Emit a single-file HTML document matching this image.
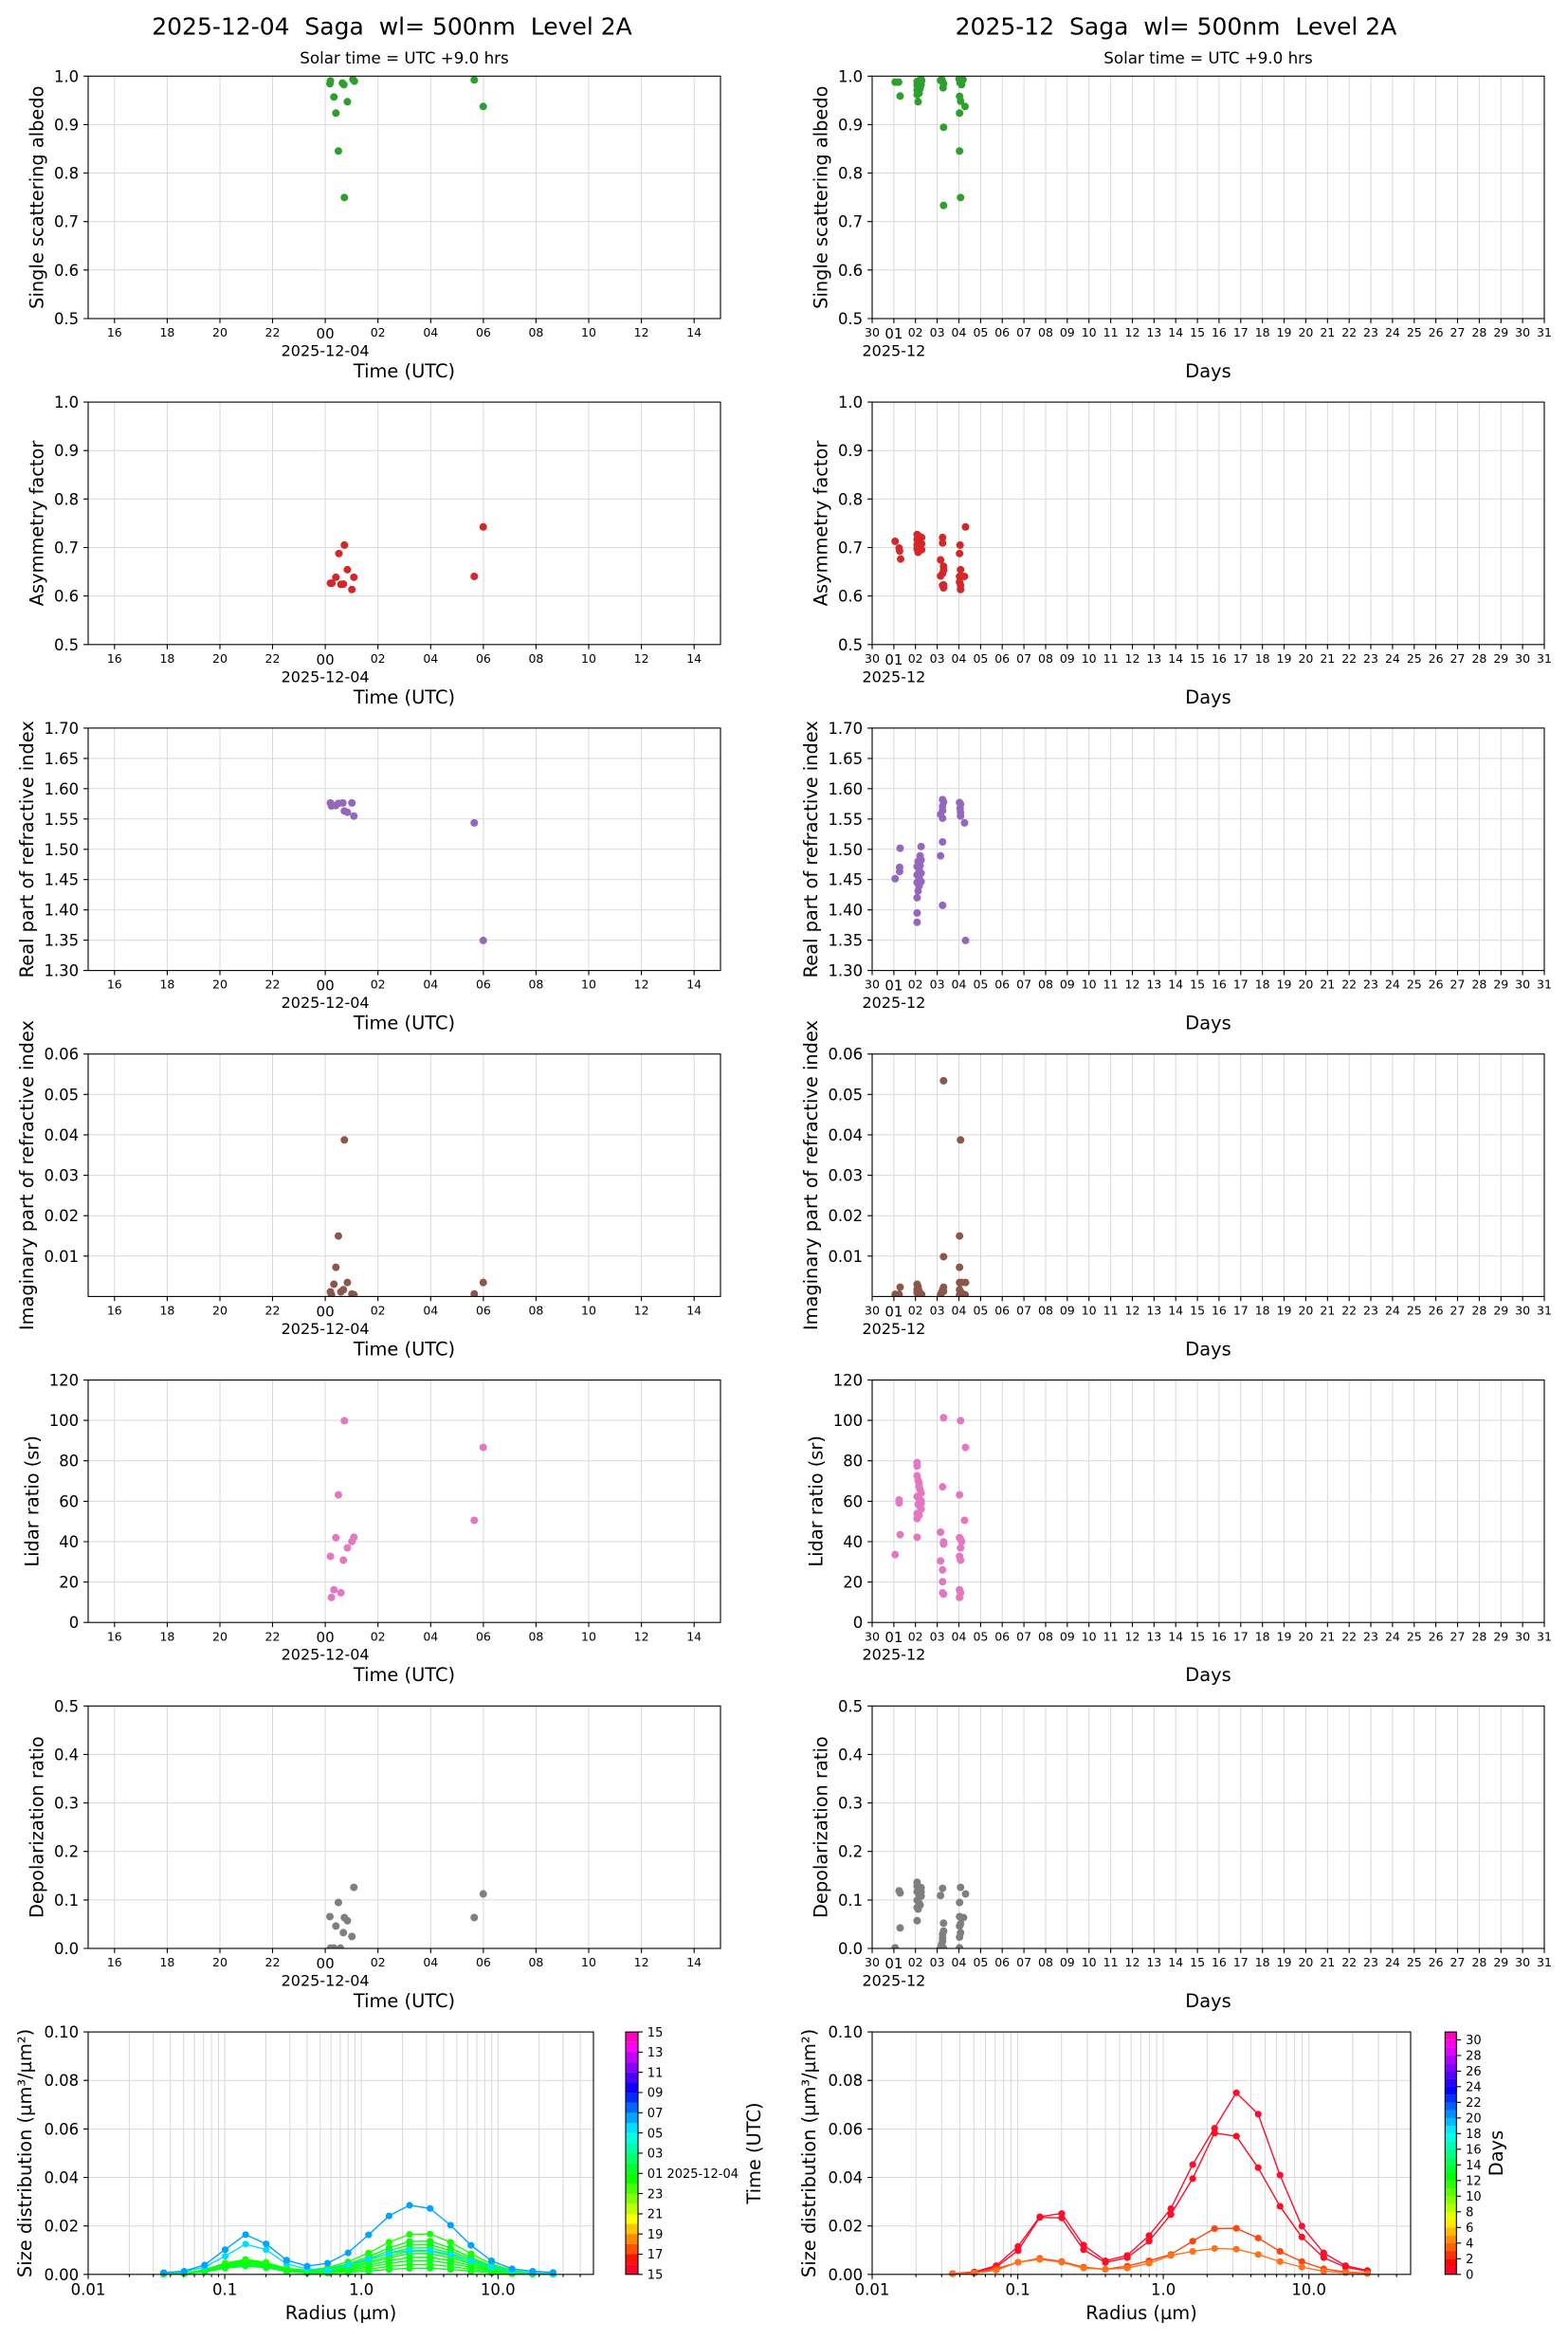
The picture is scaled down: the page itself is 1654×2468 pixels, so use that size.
<!DOCTYPE html>
<html><head><meta charset="utf-8"><style>
body{margin:0;background:#fff}
svg{display:block}
text{font-family:"DejaVu Sans","Liberation Sans",sans-serif;fill:#000}
.yt{font-size:16.5px;text-anchor:end}
.xt{font-size:12.5px;text-anchor:middle}
.xm{font-size:15px;text-anchor:middle}
.xd{font-size:16px;text-anchor:middle}
.al{font-size:19.4px;text-anchor:middle}
.ct{font-size:13px}
.lt{font-size:16.5px;text-anchor:middle}
.ttl{font-size:25px;text-anchor:middle;white-space:pre}
.sub{font-size:16.7px;text-anchor:middle}
.grid{stroke:#d9d9d9;stroke-width:1;fill:none}
.tk{stroke:#000;stroke-width:1.1;fill:none}
.sp{stroke:#000;stroke-width:1.1;fill:none}
.dot{fill:none;stroke-linecap:round;stroke-width:8;vector-effect:non-scaling-stroke}
.sd{fill:none;stroke-linecap:round;stroke-width:7;vector-effect:non-scaling-stroke}
.ln{fill:none;stroke-width:1.4;stroke-linejoin:round;vector-effect:non-scaling-stroke}
</style></head><body>
<svg width="1654" height="2468" viewBox="0 0 1654 2468" xmlns="http://www.w3.org/2000/svg">
<defs>
<clipPath id="cL1"><rect x="93" y="80.3" width="667" height="255.7"/></clipPath>
<clipPath id="cL2"><rect x="93" y="424.1" width="667" height="255.7"/></clipPath>
<clipPath id="cL3"><rect x="93" y="767.9" width="667" height="255.7"/></clipPath>
<clipPath id="cL4"><rect x="93" y="1111.7" width="667" height="255.7"/></clipPath>
<clipPath id="cL5"><rect x="93" y="1455.5" width="667" height="255.7"/></clipPath>
<clipPath id="cL6"><rect x="93" y="1799.3" width="667" height="255.7"/></clipPath>
<clipPath id="cR1"><rect x="920" y="80.3" width="709" height="255.7"/></clipPath>
<clipPath id="cR2"><rect x="920" y="424.1" width="709" height="255.7"/></clipPath>
<clipPath id="cR3"><rect x="920" y="767.9" width="709" height="255.7"/></clipPath>
<clipPath id="cR4"><rect x="920" y="1111.7" width="709" height="255.7"/></clipPath>
<clipPath id="cR5"><rect x="920" y="1455.5" width="709" height="255.7"/></clipPath>
<clipPath id="cR6"><rect x="920" y="1799.3" width="709" height="255.7"/></clipPath>
<path id="gvL" d="M120.8 0V255.7M176.4 0V255.7M232 0V255.7M287.5 0V255.7M343.1 0V255.7M398.7 0V255.7M454.3 0V255.7M509.9 0V255.7M565.4 0V255.7M621 0V255.7M676.6 0V255.7M732.2 0V255.7"/>
<path id="xtL" d="M120.8 255.7v4.9M176.4 255.7v4.9M232 255.7v4.9M287.5 255.7v4.9M343.1 255.7v4.9M398.7 255.7v4.9M454.3 255.7v4.9M509.9 255.7v4.9M565.4 255.7v4.9M621 255.7v4.9M676.6 255.7v4.9M732.2 255.7v4.9"/>
<path id="gvR" d="M942.9 0V255.7M965.7 0V255.7M988.6 0V255.7M1011.5 0V255.7M1034.4 0V255.7M1057.2 0V255.7M1080.1 0V255.7M1103 0V255.7M1125.8 0V255.7M1148.7 0V255.7M1171.6 0V255.7M1194.5 0V255.7M1217.3 0V255.7M1240.2 0V255.7M1263.1 0V255.7M1285.9 0V255.7M1308.8 0V255.7M1331.7 0V255.7M1354.5 0V255.7M1377.4 0V255.7M1400.3 0V255.7M1423.2 0V255.7M1446 0V255.7M1468.9 0V255.7M1491.8 0V255.7M1514.6 0V255.7M1537.5 0V255.7M1560.4 0V255.7M1583.3 0V255.7M1606.1 0V255.7"/>
<path id="xtR" d="M920 255.7v4.9M942.9 255.7v4.9M965.7 255.7v4.9M988.6 255.7v4.9M1011.5 255.7v4.9M1034.4 255.7v4.9M1057.2 255.7v4.9M1080.1 255.7v4.9M1103 255.7v4.9M1125.8 255.7v4.9M1148.7 255.7v4.9M1171.6 255.7v4.9M1194.5 255.7v4.9M1217.3 255.7v4.9M1240.2 255.7v4.9M1263.1 255.7v4.9M1285.9 255.7v4.9M1308.8 255.7v4.9M1331.7 255.7v4.9M1354.5 255.7v4.9M1377.4 255.7v4.9M1400.3 255.7v4.9M1423.2 255.7v4.9M1446 255.7v4.9M1468.9 255.7v4.9M1491.8 255.7v4.9M1514.6 255.7v4.9M1537.5 255.7v4.9M1560.4 255.7v4.9M1583.3 255.7v4.9M1606.1 255.7v4.9M1629 255.7v4.9"/>
</defs>

<!-- Titles -->
<text class="ttl" x="413.5" y="36.7">2025-12-04  Saga  wl= 500nm  Level 2A</text>
<text class="ttl" x="1240.5" y="36.7">2025-12  Saga  wl= 500nm  Level 2A</text>
<text class="sub" x="426.5" y="67.2">Solar time = UTC +9.0 hrs</text>
<text class="sub" x="1274.5" y="67.2">Solar time = UTC +9.0 hrs</text>

<!-- ============ PANEL 1 LEFT (SSA) ============ -->
<use href="#gvL" y="80.3" class="grid"/>
<path class="grid" d="M93 131.4H760M93 182.5H760M93 233.7H760M93 284.8H760"/>
<g clip-path="url(#cL1)"><path class="dot" stroke="#2ca02c" transform="matrix(0.52686 0 0 0.33338 0.273 -0.045)" d="M661 256h.01M660 265h.01M685 263h.01M688 268h.01M706 251h.01M709 257h.01M668 307h.01M695 322h.01M672 358h.01M677 478h.01M689 625h.01M949 253h.01M967 337h.01"/></g>
<rect class="sp" x="93" y="80.3" width="667" height="255.7"/>
<use href="#xtL" y="80.3" class="tk"/>
<path class="tk" d="M93 80.3h-4.9M93 131.4h-4.9M93 182.5h-4.9M93 233.7h-4.9M93 284.8h-4.9M93 336h-4.9"/>
<text class="yt"><tspan x="83.2" y="86.3">1.0</tspan><tspan x="83.2" y="137.4">0.9</tspan><tspan x="83.2" y="188.5">0.8</tspan><tspan x="83.2" y="239.7">0.7</tspan><tspan x="83.2" y="290.8">0.6</tspan><tspan x="83.2" y="342">0.5</tspan></text>
<text class="xt" y="355.1"><tspan x="120.8">16</tspan><tspan x="176.4">18</tspan><tspan x="232">20</tspan><tspan x="287.5">22</tspan><tspan x="398.7">02</tspan><tspan x="454.3">04</tspan><tspan x="509.9">06</tspan><tspan x="565.4">08</tspan><tspan x="621">10</tspan><tspan x="676.6">12</tspan><tspan x="732.2">14</tspan></text>
<text class="xm" x="343.1" y="357">00</text>
<text class="xd" x="343.1" y="375.5">2025-12-04</text>
<text class="al" x="426.5" y="398">Time (UTC)</text>
<text class="al" transform="translate(45.5 208.15) rotate(-90)">Single scattering albedo</text>

<!-- ============ PANEL 1 RIGHT ============ -->
<use href="#gvR" y="80.3" class="grid"/>
<path class="grid" d="M920 131.4H1629M920 182.5H1629M920 233.7H1629M920 284.8H1629"/>
<g clip-path="url(#cR1)"><path class="dot" stroke="#2ca02c" transform="matrix(0.52675 0 0 0.33338 827.292 -0.045)" d="M222 260h.01M229 260h.01M232 304h.01M266 258h.01M270 255h.01M274 250h.01M266 270h.01M270 275h.01M274 268h.01M268 290h.01M266 300h.01M270 295h.01M268 322h.01M273 262h.01M275 255h.01M266 285h.01M272 280h.01M315 250h.01M317 258h.01M319 265h.01M318 278h.01M313 255h.01M319 403h.01M319 650h.01M350 250h.01M352 262h.01M355 268h.01M358 252h.01M362 337h.01M351 305h.01M353 320h.01M351 358h.01M351 478h.01M353 625h.01"/></g>
<rect class="sp" x="920" y="80.3" width="709" height="255.7"/>
<use href="#xtR" y="80.3" class="tk"/>
<path class="tk" d="M920 80.3h-4.9M920 131.4h-4.9M920 182.5h-4.9M920 233.7h-4.9M920 284.8h-4.9M920 336h-4.9"/>
<text class="yt"><tspan x="910.2" y="86.3">1.0</tspan><tspan x="910.2" y="137.4">0.9</tspan><tspan x="910.2" y="188.5">0.8</tspan><tspan x="910.2" y="239.7">0.7</tspan><tspan x="910.2" y="290.8">0.6</tspan><tspan x="910.2" y="342">0.5</tspan></text>
<text class="xt" y="355.1"><tspan x="920">30</tspan><tspan x="965.7">02</tspan><tspan x="988.6">03</tspan><tspan x="1011.5">04</tspan><tspan x="1034.4">05</tspan><tspan x="1057.2">06</tspan><tspan x="1080.1">07</tspan><tspan x="1103">08</tspan><tspan x="1125.8">09</tspan><tspan x="1148.7">10</tspan><tspan x="1171.6">11</tspan><tspan x="1194.5">12</tspan><tspan x="1217.3">13</tspan><tspan x="1240.2">14</tspan><tspan x="1263.1">15</tspan><tspan x="1285.9">16</tspan><tspan x="1308.8">17</tspan><tspan x="1331.7">18</tspan><tspan x="1354.5">19</tspan><tspan x="1377.4">20</tspan><tspan x="1400.3">21</tspan><tspan x="1423.2">22</tspan><tspan x="1446">23</tspan><tspan x="1468.9">24</tspan><tspan x="1491.8">25</tspan><tspan x="1514.6">26</tspan><tspan x="1537.5">27</tspan><tspan x="1560.4">28</tspan><tspan x="1583.3">29</tspan><tspan x="1606.1">30</tspan><tspan x="1629">31</tspan></text>
<text class="xm" x="942.9" y="357">01</text>
<text class="xd" x="942.9" y="375.5">2025-12</text>
<text class="al" x="1274.5" y="398">Days</text>
<text class="al" transform="translate(872.5 208.15) rotate(-90)">Single scattering albedo</text>

<!-- ============ PANEL 2 LEFT (Asymmetry) ============ -->
<use href="#gvL" y="424.1" class="grid"/>
<path class="grid" d="M93 475.2H760M93 526.3H760M93 577.5H760M93 628.6H760"/>
<g clip-path="url(#cL2)"><path class="dot" stroke="#d62728" transform="matrix(0.52686 0 0 0.44625 0.273 399.556)" d="M661 483h.01M664 483h.01M672 469h.01M678 413h.01M689 393h.01M682 486h.01M687 485h.01M695 451h.01M704 498h.01M708 469h.01M949 467h.01M967 350h.01"/></g>
<rect class="sp" x="93" y="424.1" width="667" height="255.7"/>
<use href="#xtL" y="424.1" class="tk"/>
<path class="tk" d="M93 424.1h-4.9M93 475.2h-4.9M93 526.3h-4.9M93 577.5h-4.9M93 628.6h-4.9M93 679.8h-4.9"/>
<text class="yt"><tspan x="83.2" y="430.1">1.0</tspan><tspan x="83.2" y="481.2">0.9</tspan><tspan x="83.2" y="532.3">0.8</tspan><tspan x="83.2" y="583.5">0.7</tspan><tspan x="83.2" y="634.6">0.6</tspan><tspan x="83.2" y="685.8">0.5</tspan></text>
<text class="xt" y="698.9"><tspan x="120.8">16</tspan><tspan x="176.4">18</tspan><tspan x="232">20</tspan><tspan x="287.5">22</tspan><tspan x="398.7">02</tspan><tspan x="454.3">04</tspan><tspan x="509.9">06</tspan><tspan x="565.4">08</tspan><tspan x="621">10</tspan><tspan x="676.6">12</tspan><tspan x="732.2">14</tspan></text>
<text class="xm" x="343.1" y="700.8">00</text>
<text class="xd" x="343.1" y="719.3">2025-12-04</text>
<text class="al" x="426.5" y="741.8">Time (UTC)</text>
<text class="al" transform="translate(45.5 551.95) rotate(-90)">Asymmetry factor</text>

<!-- ============ PANEL 2 RIGHT ============ -->
<use href="#gvR" y="424.1" class="grid"/>
<path class="grid" d="M920 475.2H1629M920 526.3H1629M920 577.5H1629M920 628.6H1629"/>
<g clip-path="url(#cR2)"><path class="dot" stroke="#d62728" transform="matrix(0.52675 0 0 0.44625 827.292 399.556)" d="M222 384h.01M230 400h.01M231 407h.01M233 426h.01M266 368h.01M266 380h.01M266 392h.01M266 402h.01M270 372h.01M270 385h.01M270 398h.01M275 375h.01M275 390h.01M275 404h.01M268 410h.01M317 375h.01M317 388h.01M313 428h.01M319 443h.01M319 452h.01M313 466h.01M317 460h.01M319 487h.01M319 494h.01M317 488h.01M352 393h.01M351 413h.01M353 451h.01M351 467h.01M355 467h.01M361 467h.01M351 480h.01M353 488h.01M353 498h.01M363 350h.01"/></g>
<rect class="sp" x="920" y="424.1" width="709" height="255.7"/>
<use href="#xtR" y="424.1" class="tk"/>
<path class="tk" d="M920 424.1h-4.9M920 475.2h-4.9M920 526.3h-4.9M920 577.5h-4.9M920 628.6h-4.9M920 679.8h-4.9"/>
<text class="yt"><tspan x="910.2" y="430.1">1.0</tspan><tspan x="910.2" y="481.2">0.9</tspan><tspan x="910.2" y="532.3">0.8</tspan><tspan x="910.2" y="583.5">0.7</tspan><tspan x="910.2" y="634.6">0.6</tspan><tspan x="910.2" y="685.8">0.5</tspan></text>
<text class="xt" y="698.9"><tspan x="920">30</tspan><tspan x="965.7">02</tspan><tspan x="988.6">03</tspan><tspan x="1011.5">04</tspan><tspan x="1034.4">05</tspan><tspan x="1057.2">06</tspan><tspan x="1080.1">07</tspan><tspan x="1103">08</tspan><tspan x="1125.8">09</tspan><tspan x="1148.7">10</tspan><tspan x="1171.6">11</tspan><tspan x="1194.5">12</tspan><tspan x="1217.3">13</tspan><tspan x="1240.2">14</tspan><tspan x="1263.1">15</tspan><tspan x="1285.9">16</tspan><tspan x="1308.8">17</tspan><tspan x="1331.7">18</tspan><tspan x="1354.5">19</tspan><tspan x="1377.4">20</tspan><tspan x="1400.3">21</tspan><tspan x="1423.2">22</tspan><tspan x="1446">23</tspan><tspan x="1468.9">24</tspan><tspan x="1491.8">25</tspan><tspan x="1514.6">26</tspan><tspan x="1537.5">27</tspan><tspan x="1560.4">28</tspan><tspan x="1583.3">29</tspan><tspan x="1606.1">30</tspan><tspan x="1629">31</tspan></text>
<text class="xm" x="942.9" y="700.8">01</text>
<text class="xd" x="942.9" y="719.3">2025-12</text>
<text class="al" x="1274.5" y="741.8">Days</text>
<text class="al" transform="translate(872.5 551.95) rotate(-90)">Asymmetry factor</text>

<!-- ============ PANEL 3 LEFT (Real) ============ -->
<use href="#gvL" y="767.9" class="grid"/>
<path class="grid" d="M93 799.9H760M93 831.8H760M93 863.8H760M93 895.8H760M93 927.7H760M93 959.7H760M93 991.6H760"/>
<g clip-path="url(#cL3)"><path class="dot" stroke="#9467bd" transform="matrix(0.52686 0 0 0.44625 0.273 399.744)" d="M661 1002h.01M663 1009h.01M672 1008h.01M677 1003h.01M686 1002h.01M704 1002h.01M689 1021h.01M695 1024h.01M708 1033h.01M949 1049h.01M967 1327h.01"/></g>
<rect class="sp" x="93" y="767.9" width="667" height="255.7"/>
<use href="#xtL" y="767.9" class="tk"/>
<path class="tk" d="M93 767.9h-4.9M93 799.9h-4.9M93 831.8h-4.9M93 863.8h-4.9M93 895.8h-4.9M93 927.7h-4.9M93 959.7h-4.9M93 991.6h-4.9M93 1023.6h-4.9"/>
<text class="yt"><tspan x="83.2" y="773.9">1.70</tspan><tspan x="83.2" y="805.9">1.65</tspan><tspan x="83.2" y="837.8">1.60</tspan><tspan x="83.2" y="869.8">1.55</tspan><tspan x="83.2" y="901.8">1.50</tspan><tspan x="83.2" y="933.7">1.45</tspan><tspan x="83.2" y="965.7">1.40</tspan><tspan x="83.2" y="997.6">1.35</tspan><tspan x="83.2" y="1029.6">1.30</tspan></text>
<text class="xt" y="1042.7"><tspan x="120.8">16</tspan><tspan x="176.4">18</tspan><tspan x="232">20</tspan><tspan x="287.5">22</tspan><tspan x="398.7">02</tspan><tspan x="454.3">04</tspan><tspan x="509.9">06</tspan><tspan x="565.4">08</tspan><tspan x="621">10</tspan><tspan x="676.6">12</tspan><tspan x="732.2">14</tspan></text>
<text class="xm" x="343.1" y="1044.6">00</text>
<text class="xd" x="343.1" y="1063.1">2025-12-04</text>
<text class="al" x="426.5" y="1085.6">Time (UTC)</text>
<text class="al" transform="translate(35 895.75) rotate(-90)">Real part of refractive index</text>

<!-- ============ PANEL 3 RIGHT ============ -->
<use href="#gvR" y="767.9" class="grid"/>
<path class="grid" d="M920 799.9H1629M920 831.8H1629M920 863.8H1629M920 895.8H1629M920 927.7H1629M920 959.7H1629M920 991.6H1629"/>
<g clip-path="url(#cR3)"><path class="dot" stroke="#9467bd" transform="matrix(0.52675 0 0 0.44625 827.292 399.744)" d="M222 1181h.01M231 1154h.01M231 1164h.01M232 1109h.01M274 1105h.01M272 1127h.01M274 1137h.01M270 1142h.01M266 1152h.01M270 1160h.01M274 1168h.01M266 1172h.01M270 1180h.01M274 1188h.01M266 1190h.01M270 1198h.01M268 1210h.01M266 1226h.01M266 1262h.01M266 1284h.01M272 1150h.01M268 1140h.01M317 994h.01M319 1000h.01M317 1010h.01M317 1020h.01M313 1029h.01M317 1038h.01M317 1094h.01M313 1127h.01M317 1244h.01M351 1001h.01M353 1005h.01M352 1015h.01M353 1025h.01M353 1033h.01M361 1049h.01M363 1327h.01"/></g>
<rect class="sp" x="920" y="767.9" width="709" height="255.7"/>
<use href="#xtR" y="767.9" class="tk"/>
<path class="tk" d="M920 767.9h-4.9M920 799.9h-4.9M920 831.8h-4.9M920 863.8h-4.9M920 895.8h-4.9M920 927.7h-4.9M920 959.7h-4.9M920 991.6h-4.9M920 1023.6h-4.9"/>
<text class="yt"><tspan x="910.2" y="773.9">1.70</tspan><tspan x="910.2" y="805.9">1.65</tspan><tspan x="910.2" y="837.8">1.60</tspan><tspan x="910.2" y="869.8">1.55</tspan><tspan x="910.2" y="901.8">1.50</tspan><tspan x="910.2" y="933.7">1.45</tspan><tspan x="910.2" y="965.7">1.40</tspan><tspan x="910.2" y="997.6">1.35</tspan><tspan x="910.2" y="1029.6">1.30</tspan></text>
<text class="xt" y="1042.7"><tspan x="920">30</tspan><tspan x="965.7">02</tspan><tspan x="988.6">03</tspan><tspan x="1011.5">04</tspan><tspan x="1034.4">05</tspan><tspan x="1057.2">06</tspan><tspan x="1080.1">07</tspan><tspan x="1103">08</tspan><tspan x="1125.8">09</tspan><tspan x="1148.7">10</tspan><tspan x="1171.6">11</tspan><tspan x="1194.5">12</tspan><tspan x="1217.3">13</tspan><tspan x="1240.2">14</tspan><tspan x="1263.1">15</tspan><tspan x="1285.9">16</tspan><tspan x="1308.8">17</tspan><tspan x="1331.7">18</tspan><tspan x="1354.5">19</tspan><tspan x="1377.4">20</tspan><tspan x="1400.3">21</tspan><tspan x="1423.2">22</tspan><tspan x="1446">23</tspan><tspan x="1468.9">24</tspan><tspan x="1491.8">25</tspan><tspan x="1514.6">26</tspan><tspan x="1537.5">27</tspan><tspan x="1560.4">28</tspan><tspan x="1583.3">29</tspan><tspan x="1606.1">30</tspan><tspan x="1629">31</tspan></text>
<text class="xm" x="942.9" y="1044.6">01</text>
<text class="xd" x="942.9" y="1063.1">2025-12</text>
<text class="al" x="1274.5" y="1085.6">Days</text>
<text class="al" transform="translate(862 895.75) rotate(-90)">Real part of refractive index</text>

<!-- ============ PANEL 4 LEFT (Imag) ============ -->
<use href="#gvL" y="1111.7" class="grid"/>
<path class="grid" d="M93 1154.3H760M93 1196.9H760M93 1239.6H760M93 1282.2H760M93 1324.8H760"/>
<g clip-path="url(#cL4)"><path class="dot" stroke="#8c564b" transform="matrix(0.52686 0 0 0.44625 0.273 1089.388)" d="M689 253h.01M677 480h.01M672 554h.01M668 594h.01M695 590h.01M661 612h.01M663 618h.01M682 612h.01M687 607h.01M704 617h.01M708 619h.01M949 617h.01M967 590h.01"/></g>
<rect class="sp" x="93" y="1111.7" width="667" height="255.7"/>
<use href="#xtL" y="1111.7" class="tk"/>
<path class="tk" d="M93 1111.7h-4.9M93 1154.3h-4.9M93 1196.9h-4.9M93 1239.6h-4.9M93 1282.2h-4.9M93 1324.8h-4.9"/>
<text class="yt"><tspan x="83.2" y="1117.7">0.06</tspan><tspan x="83.2" y="1160.3">0.05</tspan><tspan x="83.2" y="1202.9">0.04</tspan><tspan x="83.2" y="1245.6">0.03</tspan><tspan x="83.2" y="1288.2">0.02</tspan><tspan x="83.2" y="1330.8">0.01</tspan></text>
<text class="xt" y="1386.5"><tspan x="120.8">16</tspan><tspan x="176.4">18</tspan><tspan x="232">20</tspan><tspan x="287.5">22</tspan><tspan x="398.7">02</tspan><tspan x="454.3">04</tspan><tspan x="509.9">06</tspan><tspan x="565.4">08</tspan><tspan x="621">10</tspan><tspan x="676.6">12</tspan><tspan x="732.2">14</tspan></text>
<text class="xm" x="343.1" y="1388.4">00</text>
<text class="xd" x="343.1" y="1406.9">2025-12-04</text>
<text class="al" x="426.5" y="1429.4">Time (UTC)</text>
<text class="al" transform="translate(35 1239.55) rotate(-90)">Imaginary part of refractive index</text>

<!-- ============ PANEL 4 RIGHT ============ -->
<use href="#gvR" y="1111.7" class="grid"/>
<path class="grid" d="M920 1154.3H1629M920 1196.9H1629M920 1239.6H1629M920 1282.2H1629M920 1324.8H1629"/>
<g clip-path="url(#cR4)"><path class="dot" stroke="#8c564b" transform="matrix(0.52675 0 0 0.44625 827.292 1089.388)" d="M222 618h.01M230 618h.01M232 601h.01M266 594h.01M268 600h.01M266 606h.01M270 610h.01M266 614h.01M272 616h.01M275 618h.01M268 620h.01M319 113h.01M319 529h.01M319 601h.01M317 607h.01M315 614h.01M313 619h.01M319 611h.01M353 253h.01M351 480h.01M351 554h.01M351 590h.01M355 590h.01M363 590h.01M351 607h.01M353 612h.01M358 617h.01M362 619h.01M351 619h.01"/></g>
<rect class="sp" x="920" y="1111.7" width="709" height="255.7"/>
<use href="#xtR" y="1111.7" class="tk"/>
<path class="tk" d="M920 1111.7h-4.9M920 1154.3h-4.9M920 1196.9h-4.9M920 1239.6h-4.9M920 1282.2h-4.9M920 1324.8h-4.9"/>
<text class="yt"><tspan x="910.2" y="1117.7">0.06</tspan><tspan x="910.2" y="1160.3">0.05</tspan><tspan x="910.2" y="1202.9">0.04</tspan><tspan x="910.2" y="1245.6">0.03</tspan><tspan x="910.2" y="1288.2">0.02</tspan><tspan x="910.2" y="1330.8">0.01</tspan></text>
<text class="xt" y="1386.5"><tspan x="920">30</tspan><tspan x="965.7">02</tspan><tspan x="988.6">03</tspan><tspan x="1011.5">04</tspan><tspan x="1034.4">05</tspan><tspan x="1057.2">06</tspan><tspan x="1080.1">07</tspan><tspan x="1103">08</tspan><tspan x="1125.8">09</tspan><tspan x="1148.7">10</tspan><tspan x="1171.6">11</tspan><tspan x="1194.5">12</tspan><tspan x="1217.3">13</tspan><tspan x="1240.2">14</tspan><tspan x="1263.1">15</tspan><tspan x="1285.9">16</tspan><tspan x="1308.8">17</tspan><tspan x="1331.7">18</tspan><tspan x="1354.5">19</tspan><tspan x="1377.4">20</tspan><tspan x="1400.3">21</tspan><tspan x="1423.2">22</tspan><tspan x="1446">23</tspan><tspan x="1468.9">24</tspan><tspan x="1491.8">25</tspan><tspan x="1514.6">26</tspan><tspan x="1537.5">27</tspan><tspan x="1560.4">28</tspan><tspan x="1583.3">29</tspan><tspan x="1606.1">30</tspan><tspan x="1629">31</tspan></text>
<text class="xm" x="942.9" y="1388.4">01</text>
<text class="xd" x="942.9" y="1406.9">2025-12</text>
<text class="al" x="1274.5" y="1429.4">Days</text>
<text class="al" transform="translate(862 1239.55) rotate(-90)">Imaginary part of refractive index</text>

<!-- ============ PANEL 5 LEFT (Lidar) ============ -->
<use href="#gvL" y="1455.5" class="grid"/>
<path class="grid" d="M93 1498.1H760M93 1540.7H760M93 1583.4H760M93 1626H760M93 1668.6H760"/>
<g clip-path="url(#cL5)"><path class="dot" stroke="#e377c2" transform="matrix(0.52686 0 0 0.44703 0.273 1088.489)" d="M689 917h.01M967 980h.01M677 1092h.01M949 1152h.01M672 1193h.01M708 1192h.01M704 1202h.01M695 1217h.01M661 1237h.01M687 1246h.01M668 1316h.01M682 1323h.01M663 1334h.01"/></g>
<rect class="sp" x="93" y="1455.5" width="667" height="255.7"/>
<use href="#xtL" y="1455.5" class="tk"/>
<path class="tk" d="M93 1455.5h-4.9M93 1498.1h-4.9M93 1540.7h-4.9M93 1583.4h-4.9M93 1626h-4.9M93 1668.6h-4.9M93 1711.2h-4.9"/>
<text class="yt"><tspan x="83.2" y="1461.5">120</tspan><tspan x="83.2" y="1504.1">100</tspan><tspan x="83.2" y="1546.7">80</tspan><tspan x="83.2" y="1589.4">60</tspan><tspan x="83.2" y="1632">40</tspan><tspan x="83.2" y="1674.6">20</tspan><tspan x="83.2" y="1717.2">0</tspan></text>
<text class="xt" y="1730.3"><tspan x="120.8">16</tspan><tspan x="176.4">18</tspan><tspan x="232">20</tspan><tspan x="287.5">22</tspan><tspan x="398.7">02</tspan><tspan x="454.3">04</tspan><tspan x="509.9">06</tspan><tspan x="565.4">08</tspan><tspan x="621">10</tspan><tspan x="676.6">12</tspan><tspan x="732.2">14</tspan></text>
<text class="xm" x="343.1" y="1732.2">00</text>
<text class="xd" x="343.1" y="1750.7">2025-12-04</text>
<text class="al" x="426.5" y="1773.2">Time (UTC)</text>
<text class="al" transform="translate(40.5 1583.35) rotate(-90)">Lidar ratio (sr)</text>

<!-- ============ PANEL 5 RIGHT ============ -->
<use href="#gvR" y="1455.5" class="grid"/>
<path class="grid" d="M920 1498.1H1629M920 1540.7H1629M920 1583.4H1629M920 1626H1629M920 1668.6H1629"/>
<g clip-path="url(#cR5)"><path class="dot" stroke="#e377c2" transform="matrix(0.52675 0 0 0.44703 827.292 1088.489)" d="M222 1233h.01M230 1104h.01M230 1111h.01M232 1186h.01M266 1016h.01M266 1024h.01M266 1047h.01M268 1058h.01M270 1072h.01M272 1080h.01M274 1088h.01M266 1096h.01M270 1100h.01M274 1106h.01M268 1114h.01M272 1120h.01M274 1126h.01M266 1136h.01M270 1140h.01M266 1148h.01M266 1192h.01M270 1064h.01M274 1112h.01M319 910h.01M317 1073h.01M313 1180h.01M319 1203h.01M319 1208h.01M313 1248h.01M317 1269h.01M317 1297h.01M317 1323h.01M319 1326h.01M353 917h.01M363 980h.01M351 1092h.01M361 1152h.01M351 1193h.01M353 1197h.01M355 1202h.01M353 1217h.01M351 1237h.01M353 1246h.01M351 1316h.01M353 1323h.01M351 1334h.01"/></g>
<rect class="sp" x="920" y="1455.5" width="709" height="255.7"/>
<use href="#xtR" y="1455.5" class="tk"/>
<path class="tk" d="M920 1455.5h-4.9M920 1498.1h-4.9M920 1540.7h-4.9M920 1583.4h-4.9M920 1626h-4.9M920 1668.6h-4.9M920 1711.2h-4.9"/>
<text class="yt"><tspan x="910.2" y="1461.5">120</tspan><tspan x="910.2" y="1504.1">100</tspan><tspan x="910.2" y="1546.7">80</tspan><tspan x="910.2" y="1589.4">60</tspan><tspan x="910.2" y="1632">40</tspan><tspan x="910.2" y="1674.6">20</tspan><tspan x="910.2" y="1717.2">0</tspan></text>
<text class="xt" y="1730.3"><tspan x="920">30</tspan><tspan x="965.7">02</tspan><tspan x="988.6">03</tspan><tspan x="1011.5">04</tspan><tspan x="1034.4">05</tspan><tspan x="1057.2">06</tspan><tspan x="1080.1">07</tspan><tspan x="1103">08</tspan><tspan x="1125.8">09</tspan><tspan x="1148.7">10</tspan><tspan x="1171.6">11</tspan><tspan x="1194.5">12</tspan><tspan x="1217.3">13</tspan><tspan x="1240.2">14</tspan><tspan x="1263.1">15</tspan><tspan x="1285.9">16</tspan><tspan x="1308.8">17</tspan><tspan x="1331.7">18</tspan><tspan x="1354.5">19</tspan><tspan x="1377.4">20</tspan><tspan x="1400.3">21</tspan><tspan x="1423.2">22</tspan><tspan x="1446">23</tspan><tspan x="1468.9">24</tspan><tspan x="1491.8">25</tspan><tspan x="1514.6">26</tspan><tspan x="1537.5">27</tspan><tspan x="1560.4">28</tspan><tspan x="1583.3">29</tspan><tspan x="1606.1">30</tspan><tspan x="1629">31</tspan></text>
<text class="xm" x="942.9" y="1732.2">01</text>
<text class="xd" x="942.9" y="1750.7">2025-12</text>
<text class="al" x="1274.5" y="1773.2">Days</text>
<text class="al" transform="translate(867.5 1583.35) rotate(-90)">Lidar ratio (sr)</text>

<!-- ============ PANEL 6 LEFT (Depol) ============ -->
<use href="#gvL" y="1799.3" class="grid"/>
<path class="grid" d="M93 1850.4H760M93 1901.6H760M93 1952.7H760M93 2003.9H760"/>
<g clip-path="url(#cL6)"><path class="dot" stroke="#7f7f7f" transform="matrix(0.52686 0 0 0.33208 0.273 1780.04)" d="M708 634h.01M967 655h.01M677 682h.01M660 727h.01M689 730h.01M695 740h.01M949 730h.01M672 757h.01M687 778h.01M704 790h.01M661 827h.01M668 827h.01M681 827h.01"/></g>
<rect class="sp" x="93" y="1799.3" width="667" height="255.7"/>
<use href="#xtL" y="1799.3" class="tk"/>
<path class="tk" d="M93 1799.3h-4.9M93 1850.4h-4.9M93 1901.6h-4.9M93 1952.7h-4.9M93 2003.9h-4.9M93 2055h-4.9"/>
<text class="yt"><tspan x="83.2" y="1805.3">0.5</tspan><tspan x="83.2" y="1856.4">0.4</tspan><tspan x="83.2" y="1907.6">0.3</tspan><tspan x="83.2" y="1958.7">0.2</tspan><tspan x="83.2" y="2009.9">0.1</tspan><tspan x="83.2" y="2061">0.0</tspan></text>
<text class="xt" y="2074.1"><tspan x="120.8">16</tspan><tspan x="176.4">18</tspan><tspan x="232">20</tspan><tspan x="287.5">22</tspan><tspan x="398.7">02</tspan><tspan x="454.3">04</tspan><tspan x="509.9">06</tspan><tspan x="565.4">08</tspan><tspan x="621">10</tspan><tspan x="676.6">12</tspan><tspan x="732.2">14</tspan></text>
<text class="xm" x="343.1" y="2076">00</text>
<text class="xd" x="343.1" y="2094.5">2025-12-04</text>
<text class="al" x="426.5" y="2117">Time (UTC)</text>
<text class="al" transform="translate(45.5 1927.15) rotate(-90)">Depolarization ratio</text>

<!-- ============ PANEL 6 RIGHT ============ -->
<use href="#gvR" y="1799.3" class="grid"/>
<path class="grid" d="M920 1850.4H1629M920 1901.6H1629M920 1952.7H1629M920 2003.9H1629"/>
<g clip-path="url(#cR6)"><path class="dot" stroke="#7f7f7f" transform="matrix(0.52675 0 0 0.33208 827.292 1780.04)" d="M222 826h.01M230 645h.01M232 652h.01M232 763h.01M266 618h.01M266 630h.01M270 640h.01M274 635h.01M266 648h.01M270 660h.01M274 662h.01M266 675h.01M270 685h.01M266 698h.01M268 703h.01M266 740h.01M272 690h.01M274 648h.01M317 637h.01M313 660h.01M319 748h.01M319 773h.01M317 783h.01M317 795h.01M317 805h.01M315 815h.01M313 826h.01M319 827h.01M353 634h.01M363 655h.01M351 682h.01M351 727h.01M359 730h.01M353 750h.01M351 757h.01M353 778h.01M351 792h.01M351 826h.01"/></g>
<rect class="sp" x="920" y="1799.3" width="709" height="255.7"/>
<use href="#xtR" y="1799.3" class="tk"/>
<path class="tk" d="M920 1799.3h-4.9M920 1850.4h-4.9M920 1901.6h-4.9M920 1952.7h-4.9M920 2003.9h-4.9M920 2055h-4.9"/>
<text class="yt"><tspan x="910.2" y="1805.3">0.5</tspan><tspan x="910.2" y="1856.4">0.4</tspan><tspan x="910.2" y="1907.6">0.3</tspan><tspan x="910.2" y="1958.7">0.2</tspan><tspan x="910.2" y="2009.9">0.1</tspan><tspan x="910.2" y="2061">0.0</tspan></text>
<text class="xt" y="2074.1"><tspan x="920">30</tspan><tspan x="965.7">02</tspan><tspan x="988.6">03</tspan><tspan x="1011.5">04</tspan><tspan x="1034.4">05</tspan><tspan x="1057.2">06</tspan><tspan x="1080.1">07</tspan><tspan x="1103">08</tspan><tspan x="1125.8">09</tspan><tspan x="1148.7">10</tspan><tspan x="1171.6">11</tspan><tspan x="1194.5">12</tspan><tspan x="1217.3">13</tspan><tspan x="1240.2">14</tspan><tspan x="1263.1">15</tspan><tspan x="1285.9">16</tspan><tspan x="1308.8">17</tspan><tspan x="1331.7">18</tspan><tspan x="1354.5">19</tspan><tspan x="1377.4">20</tspan><tspan x="1400.3">21</tspan><tspan x="1423.2">22</tspan><tspan x="1446">23</tspan><tspan x="1468.9">24</tspan><tspan x="1491.8">25</tspan><tspan x="1514.6">26</tspan><tspan x="1537.5">27</tspan><tspan x="1560.4">28</tspan><tspan x="1583.3">29</tspan><tspan x="1606.1">30</tspan><tspan x="1629">31</tspan></text>
<text class="xm" x="942.9" y="2076">01</text>
<text class="xd" x="942.9" y="2094.5">2025-12</text>
<text class="al" x="1274.5" y="2117">Days</text>
<text class="al" transform="translate(872.5 1927.15) rotate(-90)">Depolarization ratio</text>

<!-- ============ PANEL 7 LEFT (Size distribution) ============ -->
<path class="grid" d="M136.4 2143.1V2398.8M161.7 2143.1V2398.8M179.8 2143.1V2398.8M193.7 2143.1V2398.8M205.1 2143.1V2398.8M214.8 2143.1V2398.8M223.1 2143.1V2398.8M230.5 2143.1V2398.8M237.1 2143.1V2398.8M280.5 2143.1V2398.8M305.8 2143.1V2398.8M323.9 2143.1V2398.8M337.8 2143.1V2398.8M349.2 2143.1V2398.8M358.9 2143.1V2398.8M367.2 2143.1V2398.8M374.6 2143.1V2398.8M381.2 2143.1V2398.8M424.6 2143.1V2398.8M449.9 2143.1V2398.8M468 2143.1V2398.8M481.9 2143.1V2398.8M493.3 2143.1V2398.8M503 2143.1V2398.8M511.3 2143.1V2398.8M518.7 2143.1V2398.8M525.3 2143.1V2398.8M568.7 2143.1V2398.8M594 2143.1V2398.8M612.1 2143.1V2398.8M93 2194.2H626M93 2245.4H626M93 2296.5H626M93 2347.7H626"/>
<g transform="translate(172.5 2398.8) scale(21.62 -0.2557)">
<path class="ln" stroke="#00ff1a" d="M0 1L1 2.7 2 10.2 3 25.5 4 34 5 27.2 6 12.4 7 5.7 8 5.3 9 8.1 10 13.5 11 20.3 12 25.2 13 25.5 14 20.3 15 13 16 6.5 17 2.6 18 1 19 .4"/>
<path class="sd" stroke="#00ff1a" d="M0 1h.01M1 2.7h.01M2 10.2h.01M3 25.5h.01M4 34h.01M5 27.2h.01M6 12.4h.01M7 5.7h.01M8 5.3h.01M9 8.1h.01M10 13.5h.01M11 20.3h.01M12 25.2h.01M13 25.5h.01M14 20.3h.01M15 13h.01M16 6.5h.01M17 2.6h.01M18 1h.01M19 .4h.01"/>
<path class="ln" stroke="#1aff00" d="M0 1.3L1 3.4 2 12.6 3 31.5 4 42 5 33.6 6 15.5 7 7.5 8 8 9 13 10 21.8 11 32.8 12 40.7 13 41.2 14 32.8 15 21 16 10.5 17 4.2 18 1.7 19 .6"/>
<path class="sd" stroke="#1aff00" d="M0 1.3h.01M1 3.4h.01M2 12.6h.01M3 31.5h.01M4 42h.01M5 33.6h.01M6 15.5h.01M7 7.5h.01M8 8h.01M9 13h.01M10 21.8h.01M11 32.8h.01M12 40.7h.01M13 41.2h.01M14 32.8h.01M15 21h.01M16 10.5h.01M17 4.2h.01M18 1.7h.01M19 .6h.01"/>
<path class="ln" stroke="#00ff30" d="M0 1.1L1 3 2 11.4 3 28.5 4 38 5 30.4 6 14.5 7 8.1 8 10.2 9 17.8 10 30.2 11 45.2 12 56.3 13 56.8 14 45.2 15 29 16 14.5 17 5.8 18 2.3 19 .9"/>
<path class="sd" stroke="#00ff30" d="M0 1.1h.01M1 3h.01M2 11.4h.01M3 28.5h.01M4 38h.01M5 30.4h.01M6 14.5h.01M7 8.1h.01M8 10.2h.01M9 17.8h.01M10 30.2h.01M11 45.2h.01M12 56.3h.01M13 56.8h.01M14 45.2h.01M15 29h.01M16 14.5h.01M17 5.8h.01M18 2.3h.01M19 .9h.01"/>
<path class="ln" stroke="#0cff00" d="M0 1.4L1 3.7 2 13.8 3 34.5 4 46 5 36.8 6 17.5 7 9.8 8 12.6 9 22.1 10 37.4 11 56.2 12 69.8 13 70.6 14 56.2 15 36 16 18 17 7.2 18 2.9 19 1.1"/>
<path class="sd" stroke="#0cff00" d="M0 1.4h.01M1 3.7h.01M2 13.8h.01M3 34.5h.01M4 46h.01M5 36.8h.01M6 17.5h.01M7 9.8h.01M8 12.6h.01M9 22.1h.01M10 37.4h.01M11 56.2h.01M12 69.8h.01M13 70.6h.01M14 56.2h.01M15 36h.01M16 18h.01M17 7.2h.01M18 2.9h.01M19 1.1h.01"/>
<path class="ln" stroke="#00ff24" d="M0 1.3L1 3.4 2 12.6 3 31.5 4 42 5 33.6 6 16.5 7 10.3 8 14.9 9 26.8 10 45.8 11 68.6 12 85.4 13 86.2 14 68.6 15 44 16 22 17 8.8 18 3.5 19 1.3"/>
<path class="sd" stroke="#00ff24" d="M0 1.3h.01M1 3.4h.01M2 12.6h.01M3 31.5h.01M4 42h.01M5 33.6h.01M6 16.5h.01M7 10.3h.01M8 14.9h.01M9 26.8h.01M10 45.8h.01M11 68.6h.01M12 85.4h.01M13 86.2h.01M14 68.6h.01M15 44h.01M16 22h.01M17 8.8h.01M18 3.5h.01M19 1.3h.01"/>
<path class="ln" stroke="#26ff00" d="M0 1.7L1 4.5 2 16.8 3 42 4 56 5 44.8 6 21.6 7 12.6 8 16.9 9 30 10 51 11 76.4 12 95.1 13 96 14 76.4 15 49 16 24.5 17 9.8 18 3.9 19 1.5"/>
<path class="sd" stroke="#26ff00" d="M0 1.7h.01M1 4.5h.01M2 16.8h.01M3 42h.01M4 56h.01M5 44.8h.01M6 21.6h.01M7 12.6h.01M8 16.9h.01M9 30h.01M10 51h.01M11 76.4h.01M12 95.1h.01M13 96h.01M14 76.4h.01M15 49h.01M16 24.5h.01M17 9.8h.01M18 3.9h.01M19 1.5h.01"/>
<path class="ln" stroke="#00ff30" d="M0 1.4L1 3.8 2 14.4 3 36 4 48 5 38.4 6 19 7 12.5 8 18.7 9 34.1 10 58.2 11 87.4 12 108.6 13 109.8 14 87.4 15 56 16 28 17 11.2 18 4.5 19 1.7"/>
<path class="sd" stroke="#00ff30" d="M0 1.4h.01M1 3.8h.01M2 14.4h.01M3 36h.01M4 48h.01M5 38.4h.01M6 19h.01M7 12.5h.01M8 18.7h.01M9 34.1h.01M10 58.2h.01M11 87.4h.01M12 108.6h.01M13 109.8h.01M14 87.4h.01M15 56h.01M16 28h.01M17 11.2h.01M18 4.5h.01M19 1.7h.01"/>
<path class="ln" stroke="#0cff00" d="M0 1.6L1 4.2 2 15.6 3 39 4 52 5 41.6 6 20.7 7 13.7 8 20.9 9 38 10 65 11 97.5 12 121.3 13 122.5 14 97.5 15 62.5 16 31.3 17 12.5 18 5 19 1.9"/>
<path class="sd" stroke="#0cff00" d="M0 1.6h.01M1 4.2h.01M2 15.6h.01M3 39h.01M4 52h.01M5 41.6h.01M6 20.7h.01M7 13.7h.01M8 20.9h.01M9 38h.01M10 65h.01M11 97.5h.01M12 121.3h.01M13 122.5h.01M14 97.5h.01M15 62.5h.01M16 31.3h.01M17 12.5h.01M18 5h.01M19 1.9h.01"/>
<path class="ln" stroke="#00ff1a" d="M0 1.7L1 4.6 2 17.4 3 43.5 4 58 5 46.4 6 23.1 7 15.4 8 23.3 9 42.6 10 72.8 11 109.2 12 135.8 13 137.2 14 109.2 15 70 16 35 17 14 18 5.6 19 2.1"/>
<path class="sd" stroke="#00ff1a" d="M0 1.7h.01M1 4.6h.01M2 17.4h.01M3 43.5h.01M4 58h.01M5 46.4h.01M6 23.1h.01M7 15.4h.01M8 23.3h.01M9 42.6h.01M10 72.8h.01M11 109.2h.01M12 135.8h.01M13 137.2h.01M14 109.2h.01M15 70h.01M16 35h.01M17 14h.01M18 5.6h.01M19 2.1h.01"/>
<path class="ln" stroke="#1aff00" d="M0 1.9L1 5 2 18.6 3 46.5 4 62 5 49.6 6 25.1 7 17.6 8 28 9 51.6 10 88.4 11 132.6 12 164.9 13 166.6 14 132.6 15 85 16 42.5 17 17 18 6.8 19 2.6"/>
<path class="sd" stroke="#1aff00" d="M0 1.9h.01M1 5h.01M2 18.6h.01M3 46.5h.01M4 62h.01M5 49.6h.01M6 25.1h.01M7 17.6h.01M8 28h.01M9 51.6h.01M10 88.4h.01M11 132.6h.01M12 164.9h.01M13 166.6h.01M14 132.6h.01M15 85h.01M16 42.5h.01M17 17h.01M18 6.8h.01M19 2.6h.01"/>
<path class="ln" stroke="#00dfff" d="M0 6L1 10 2 30 3 75 4 125 5 102 6 43 7 23 8 16 9 39 10 62 11 86 12 99 13 99 14 82 15 56 16 30 17 13 18 6 19 3"/>
<path class="sd" stroke="#00dfff" d="M0 6h.01M1 10h.01M2 30h.01M3 75h.01M4 125h.01M5 102h.01M6 43h.01M7 23h.01M8 16h.01M9 39h.01M10 62h.01M11 86h.01M12 99h.01M13 99h.01M14 82h.01M15 56h.01M16 30h.01M17 13h.01M18 6h.01M19 3h.01"/>
<path class="ln" stroke="#00a3ff" d="M0 7L1 13 2 39 3 102 4 164 5 126 6 59 7 34 8 46 9 89 10 163 11 241 12 285 13 272 14 203 15 120 16 56 17 23 18 13 19 8"/>
<path class="sd" stroke="#00a3ff" d="M0 7h.01M1 13h.01M2 39h.01M3 102h.01M4 164h.01M5 126h.01M6 59h.01M7 34h.01M8 46h.01M9 89h.01M10 163h.01M11 241h.01M12 285h.01M13 272h.01M14 203h.01M15 120h.01M16 56h.01M17 23h.01M18 13h.01M19 8h.01"/>
</g>
<rect class="sp" x="93" y="2143.1" width="533" height="255.7"/>
<path class="tk" d="M93 2143.1h-4.9M93 2194.2h-4.9M93 2245.4h-4.9M93 2296.5h-4.9M93 2347.7h-4.9M93 2398.8h-4.9M93 2398.8v4.9M237.1 2398.8v4.9M381.2 2398.8v4.9M525.3 2398.8v4.9"/>
<path class="tk" stroke-width="0.8" d="M136.4 2398.8v2.8M161.7 2398.8v2.8M179.8 2398.8v2.8M193.7 2398.8v2.8M205.1 2398.8v2.8M214.8 2398.8v2.8M223.1 2398.8v2.8M230.5 2398.8v2.8M280.5 2398.8v2.8M305.8 2398.8v2.8M323.9 2398.8v2.8M337.8 2398.8v2.8M349.2 2398.8v2.8M358.9 2398.8v2.8M367.2 2398.8v2.8M374.6 2398.8v2.8M424.6 2398.8v2.8M449.9 2398.8v2.8M468 2398.8v2.8M481.9 2398.8v2.8M493.3 2398.8v2.8M503 2398.8v2.8M511.3 2398.8v2.8M518.7 2398.8v2.8M568.7 2398.8v2.8M594 2398.8v2.8M612.1 2398.8v2.8"/>
<text class="yt"><tspan x="83.2" y="2149.1">0.10</tspan><tspan x="83.2" y="2200.2">0.08</tspan><tspan x="83.2" y="2251.4">0.06</tspan><tspan x="83.2" y="2302.5">0.04</tspan><tspan x="83.2" y="2353.7">0.02</tspan><tspan x="83.2" y="2404.8">0.00</tspan></text>
<text class="lt" y="2420.6"><tspan x="93">0.01</tspan><tspan x="237.1">0.1</tspan><tspan x="381.2">1.0</tspan><tspan x="525.3">10.0</tspan></text>
<text class="al" x="359.5" y="2446">Radius (µm)</text>
<text class="al" transform="translate(33 2270.95) rotate(-90)">Size distribution (µm³/µm²)</text>

<!-- Left colorbar -->
<g>
<rect x="660" y="2388.15" width="13" height="10.75" fill="#ff0029"/>
<rect x="660" y="2377.49" width="13" height="10.75" fill="#ff1300"/>
<rect x="660" y="2366.84" width="13" height="10.75" fill="#ff4f00"/>
<rect x="660" y="2356.18" width="13" height="10.75" fill="#ff8a00"/>
<rect x="660" y="2345.53" width="13" height="10.75" fill="#ffc600"/>
<rect x="660" y="2334.88" width="13" height="10.75" fill="#fcff00"/>
<rect x="660" y="2324.22" width="13" height="10.75" fill="#c0ff00"/>
<rect x="660" y="2313.57" width="13" height="10.75" fill="#84ff00"/>
<rect x="660" y="2302.91" width="13" height="10.75" fill="#48ff00"/>
<rect x="660" y="2292.26" width="13" height="10.75" fill="#0cff00"/>
<rect x="660" y="2281.61" width="13" height="10.75" fill="#00ff30"/>
<rect x="660" y="2270.95" width="13" height="10.75" fill="#00ff6b"/>
<rect x="660" y="2260.3" width="13" height="10.75" fill="#00ffa7"/>
<rect x="660" y="2249.64" width="13" height="10.75" fill="#00ffe2"/>
<rect x="660" y="2238.99" width="13" height="10.75" fill="#00dfff"/>
<rect x="660" y="2228.34" width="13" height="10.75" fill="#00a3ff"/>
<rect x="660" y="2217.68" width="13" height="10.75" fill="#0067ff"/>
<rect x="660" y="2207.03" width="13" height="10.75" fill="#002bff"/>
<rect x="660" y="2196.37" width="13" height="10.75" fill="#1100ff"/>
<rect x="660" y="2185.72" width="13" height="10.75" fill="#4e00ff"/>
<rect x="660" y="2175.07" width="13" height="10.75" fill="#8a00ff"/>
<rect x="660" y="2164.41" width="13" height="10.75" fill="#c600ff"/>
<rect x="660" y="2153.76" width="13" height="10.75" fill="#ff00fb"/>
<rect x="660" y="2143.1" width="13" height="10.66" fill="#ff00bf"/>
</g>
<rect class="sp" x="660" y="2143.1" width="13" height="255.7"/>
<path class="tk" d="M673 2398.8h4.9M673 2377.5h4.9M673 2356.2h4.9M673 2334.9h4.9M673 2313.6h4.9M673 2292.3h4.9M673 2270.9h4.9M673 2249.6h4.9M673 2228.3h4.9M673 2207h4.9M673 2185.7h4.9M673 2164.4h4.9M673 2143.1h4.9"/>
<text class="ct"><tspan x="682.8" y="2403.5">15</tspan><tspan x="682.8" y="2382.2">17</tspan><tspan x="682.8" y="2360.9">19</tspan><tspan x="682.8" y="2339.6">21</tspan><tspan x="682.8" y="2318.3">23</tspan><tspan x="682.8" y="2297">01 2025-12-04</tspan><tspan x="682.8" y="2275.6">03</tspan><tspan x="682.8" y="2254.3">05</tspan><tspan x="682.8" y="2233">07</tspan><tspan x="682.8" y="2211.7">09</tspan><tspan x="682.8" y="2190.4">11</tspan><tspan x="682.8" y="2169.1">13</tspan><tspan x="682.8" y="2147.8">15</tspan></text>
<text class="al" transform="translate(802 2271) rotate(-90)">Time (UTC)</text>

<!-- ============ PANEL 7 RIGHT (Size distribution) ============ -->
<path class="grid" d="M966.2 2143.1V2398.8M993.3 2143.1V2398.8M1012.5 2143.1V2398.8M1027.3 2143.1V2398.8M1039.5 2143.1V2398.8M1049.8 2143.1V2398.8M1058.7 2143.1V2398.8M1066.5 2143.1V2398.8M1073.6 2143.1V2398.8M1119.8 2143.1V2398.8M1146.9 2143.1V2398.8M1166.1 2143.1V2398.8M1180.9 2143.1V2398.8M1193.1 2143.1V2398.8M1203.4 2143.1V2398.8M1212.3 2143.1V2398.8M1220.1 2143.1V2398.8M1227.1 2143.1V2398.8M1273.3 2143.1V2398.8M1300.4 2143.1V2398.8M1319.6 2143.1V2398.8M1334.4 2143.1V2398.8M1346.6 2143.1V2398.8M1356.9 2143.1V2398.8M1365.8 2143.1V2398.8M1373.6 2143.1V2398.8M1380.7 2143.1V2398.8M1426.9 2143.1V2398.8M1454 2143.1V2398.8M1473.2 2143.1V2398.8M920 2194.2H1488M920 2245.4H1488M920 2296.5H1488M920 2347.7H1488"/>
<g transform="translate(1004.7 2398.8) scale(23.03 -0.2557)">
<path class="ln" stroke="#ff0d30" d="M0 3L1 10 2 36 3 115 4 238 5 251 6 121 7 56 8 78 9 160 10 271 11 453 12 603 13 749 14 661 15 410 16 199 17 89 18 36 19 16"/>
<path class="sd" stroke="#ff0d30" d="M0 3h.01M1 10h.01M2 36h.01M3 115h.01M4 238h.01M5 251h.01M6 121h.01M7 56h.01M8 78h.01M9 160h.01M10 271h.01M11 453h.01M12 603h.01M13 749h.01M14 661h.01M15 410h.01M16 199h.01M17 89h.01M18 36h.01M19 16h.01"/>
<path class="ln" stroke="#ff0d22" d="M0 3L1 9 2 30 3 98 4 235 5 233 6 102 7 49 8 69 9 137 10 247 11 395 12 583 13 570 14 440 15 281 16 154 17 69 18 30 19 13"/>
<path class="sd" stroke="#ff0d22" d="M0 3h.01M1 9h.01M2 30h.01M3 98h.01M4 235h.01M5 233h.01M6 102h.01M7 49h.01M8 69h.01M9 137h.01M10 247h.01M11 395h.01M12 583h.01M13 570h.01M14 440h.01M15 281h.01M16 154h.01M17 69h.01M18 30h.01M19 13h.01"/>
<path class="ln" stroke="#ff4410" d="M0 3L1 6 2 23 3 50 4 66 5 53 6 30 7 21 8 34 9 56 10 82 11 137 12 189 13 190 14 150 15 95 16 53 17 23 18 10 19 5"/>
<path class="sd" stroke="#ff4410" d="M0 3h.01M1 6h.01M2 23h.01M3 50h.01M4 66h.01M5 53h.01M6 30h.01M7 21h.01M8 34h.01M9 56h.01M10 82h.01M11 137h.01M12 189h.01M13 190h.01M14 150h.01M15 95h.01M16 53h.01M17 23h.01M18 10h.01M19 5h.01"/>
<path class="ln" stroke="#ff7318" d="M0 2L1 5 2 17 3 50 4 62 5 50 6 26 7 21 8 26 9 46 10 78 11 95 12 107 13 104 14 82 15 53 16 30 17 13 18 7 19 3"/>
<path class="sd" stroke="#ff7318" d="M0 2h.01M1 5h.01M2 17h.01M3 50h.01M4 62h.01M5 50h.01M6 26h.01M7 21h.01M8 26h.01M9 46h.01M10 78h.01M11 95h.01M12 107h.01M13 104h.01M14 82h.01M15 53h.01M16 30h.01M17 13h.01M18 7h.01M19 3h.01"/>
</g>
<rect class="sp" x="920" y="2143.1" width="568" height="255.7"/>
<path class="tk" d="M920 2143.1h-4.9M920 2194.2h-4.9M920 2245.4h-4.9M920 2296.5h-4.9M920 2347.7h-4.9M920 2398.8h-4.9M920 2398.8v4.9M1073.6 2398.8v4.9M1227.1 2398.8v4.9M1380.7 2398.8v4.9"/>
<path class="tk" stroke-width="0.8" d="M966.2 2398.8v2.8M993.3 2398.8v2.8M1012.5 2398.8v2.8M1027.3 2398.8v2.8M1039.5 2398.8v2.8M1049.8 2398.8v2.8M1058.7 2398.8v2.8M1066.5 2398.8v2.8M1119.8 2398.8v2.8M1146.9 2398.8v2.8M1166.1 2398.8v2.8M1180.9 2398.8v2.8M1193.1 2398.8v2.8M1203.4 2398.8v2.8M1212.3 2398.8v2.8M1220.1 2398.8v2.8M1273.3 2398.8v2.8M1300.4 2398.8v2.8M1319.6 2398.8v2.8M1334.4 2398.8v2.8M1346.6 2398.8v2.8M1356.9 2398.8v2.8M1365.8 2398.8v2.8M1373.6 2398.8v2.8M1426.9 2398.8v2.8M1454 2398.8v2.8M1473.2 2398.8v2.8"/>
<text class="yt"><tspan x="910.2" y="2149.1">0.10</tspan><tspan x="910.2" y="2200.2">0.08</tspan><tspan x="910.2" y="2251.4">0.06</tspan><tspan x="910.2" y="2302.5">0.04</tspan><tspan x="910.2" y="2353.7">0.02</tspan><tspan x="910.2" y="2404.8">0.00</tspan></text>
<text class="lt" y="2420.6"><tspan x="920">0.01</tspan><tspan x="1073.6">0.1</tspan><tspan x="1227.1">1.0</tspan><tspan x="1380.7">10.0</tspan></text>
<text class="al" x="1204" y="2446">Radius (µm)</text>
<text class="al" transform="translate(860 2270.95) rotate(-90)">Size distribution (µm³/µm²)</text>

<!-- Right colorbar -->
<g>
<rect x="1524.3" y="2390.55" width="12" height="8.35" fill="#ff0029"/>
<rect x="1524.3" y="2382.3" width="12" height="8.35" fill="#ff0500"/>
<rect x="1524.3" y="2374.06" width="12" height="8.35" fill="#ff3300"/>
<rect x="1524.3" y="2365.81" width="12" height="8.35" fill="#ff6000"/>
<rect x="1524.3" y="2357.56" width="12" height="8.35" fill="#ff8e00"/>
<rect x="1524.3" y="2349.31" width="12" height="8.35" fill="#ffbc00"/>
<rect x="1524.3" y="2341.06" width="12" height="8.35" fill="#ffea00"/>
<rect x="1524.3" y="2332.82" width="12" height="8.35" fill="#e6ff00"/>
<rect x="1524.3" y="2324.57" width="12" height="8.35" fill="#b8ff00"/>
<rect x="1524.3" y="2316.32" width="12" height="8.35" fill="#8aff00"/>
<rect x="1524.3" y="2308.07" width="12" height="8.35" fill="#5cff00"/>
<rect x="1524.3" y="2299.82" width="12" height="8.35" fill="#2eff00"/>
<rect x="1524.3" y="2291.58" width="12" height="8.35" fill="#00ff00"/>
<rect x="1524.3" y="2283.33" width="12" height="8.35" fill="#00ff2e"/>
<rect x="1524.3" y="2275.08" width="12" height="8.35" fill="#00ff5b"/>
<rect x="1524.3" y="2266.83" width="12" height="8.35" fill="#00ff89"/>
<rect x="1524.3" y="2258.58" width="12" height="8.35" fill="#00ffb7"/>
<rect x="1524.3" y="2250.34" width="12" height="8.35" fill="#00ffe5"/>
<rect x="1524.3" y="2242.09" width="12" height="8.35" fill="#00ebff"/>
<rect x="1524.3" y="2233.84" width="12" height="8.35" fill="#00bdff"/>
<rect x="1524.3" y="2225.59" width="12" height="8.35" fill="#008fff"/>
<rect x="1524.3" y="2217.34" width="12" height="8.35" fill="#0061ff"/>
<rect x="1524.3" y="2209.1" width="12" height="8.35" fill="#0033ff"/>
<rect x="1524.3" y="2200.85" width="12" height="8.35" fill="#0005ff"/>
<rect x="1524.3" y="2192.6" width="12" height="8.35" fill="#2a00ff"/>
<rect x="1524.3" y="2184.35" width="12" height="8.35" fill="#5800ff"/>
<rect x="1524.3" y="2176.1" width="12" height="8.35" fill="#8600ff"/>
<rect x="1524.3" y="2167.86" width="12" height="8.35" fill="#b400ff"/>
<rect x="1524.3" y="2159.61" width="12" height="8.35" fill="#e200ff"/>
<rect x="1524.3" y="2151.36" width="12" height="8.35" fill="#ff00ed"/>
<rect x="1524.3" y="2143.1" width="12" height="8.26" fill="#ff00bf"/>
</g>
<rect class="sp" x="1524.3" y="2143.1" width="12" height="255.7"/>
<path class="tk" d="M1536.3 2398.8h4.9M1536.3 2382.3h4.9M1536.3 2365.8h4.9M1536.3 2349.3h4.9M1536.3 2332.8h4.9M1536.3 2316.3h4.9M1536.3 2299.8h4.9M1536.3 2283.3h4.9M1536.3 2266.8h4.9M1536.3 2250.3h4.9M1536.3 2233.8h4.9M1536.3 2217.3h4.9M1536.3 2200.8h4.9M1536.3 2184.4h4.9M1536.3 2167.9h4.9M1536.3 2151.4h4.9"/>
<text class="ct"><tspan x="1546.1" y="2403.5">0</tspan><tspan x="1546.1" y="2387">2</tspan><tspan x="1546.1" y="2370.5">4</tspan><tspan x="1546.1" y="2354">6</tspan><tspan x="1546.1" y="2337.5">8</tspan><tspan x="1546.1" y="2321">10</tspan><tspan x="1546.1" y="2304.5">12</tspan><tspan x="1546.1" y="2288">14</tspan><tspan x="1546.1" y="2271.5">16</tspan><tspan x="1546.1" y="2255">18</tspan><tspan x="1546.1" y="2238.5">20</tspan><tspan x="1546.1" y="2222">22</tspan><tspan x="1546.1" y="2205.5">24</tspan><tspan x="1546.1" y="2189.1">26</tspan><tspan x="1546.1" y="2172.6">28</tspan><tspan x="1546.1" y="2156.1">30</tspan></text>
<text class="al" transform="translate(1585 2271) rotate(-90)">Days</text>
</svg>
</body></html>
